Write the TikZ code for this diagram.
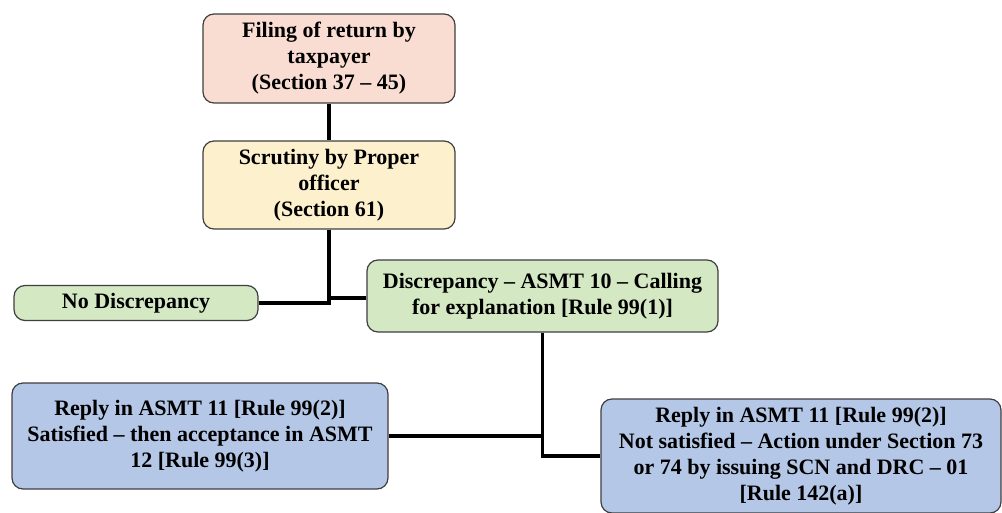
\documentclass[tikz,border=0pt]{standalone}
\usepackage{fontspec}
\setmainfont{Liberation Serif}
\definecolor{cfiling}{HTML}{F9DDD2}
\definecolor{cscrut}{HTML}{FDF0CD}
\definecolor{cgreen}{HTML}{D4E8C4}
\definecolor{cblue}{HTML}{B4C7E7}
\definecolor{cborder}{HTML}{3F3F3F}
\begin{document}
\begin{tikzpicture}[x=1pt,y=-1pt,
  box/.style={draw=cborder, line width=1.2pt, rounded corners=11pt, align=center,
    font=\fontsize{22}{26}\selectfont\bfseries, inner sep=2pt, anchor=center},
  conn/.style={line width=3.8pt, black}]
\useasboundingbox (0,0) rectangle (1002,513);
\node[box, fill=cfiling, minimum width=252pt, minimum height=89pt] (filing) at (329,58.5)
  {Filing of return by\\taxpayer\\(Section 37 – 45)};
\node[box, fill=cscrut, minimum width=252pt, minimum height=88pt] (scrut) at (329,185)
  {Scrutiny by Proper\\officer\\(Section 61)};
\node[box, fill=cgreen, minimum width=244pt, minimum height=35pt] (nodisc) at (136,303)
  {No Discrepancy};
\node[box, fill=cgreen, minimum width=351pt, minimum height=72pt] (disc) at (542.5,296)
  {Discrepancy – ASMT 10 – Calling\\for explanation [Rule 99(1)]};
\node[box, fill=cblue, minimum width=376pt, minimum height=106pt] (sat) at (200,436)
  {Reply in ASMT 11 [Rule 99(2)]\\Satisfied – then acceptance in ASMT\\12 [Rule 99(3)]};
\node[box, fill=cblue, minimum width=400pt, minimum height=114pt] (notsat) at (801,456)
  {Reply in ASMT 11 [Rule 99(2)]\\Not satisfied – Action under Section 73\\or 74 by issuing SCN and DRC – 01\\{}[Rule 142(a)]};
\draw[conn] (filing.south) -- (scrut.north);
\draw[conn] (scrut.south) |- (nodisc.east);
\draw[conn] (scrut.south) |- ([yshift=-2pt]disc.west);
\draw[conn] (disc.south) |- (sat.east);
\draw[conn] (disc.south) |- (notsat.west);
\end{tikzpicture}
\end{document}
